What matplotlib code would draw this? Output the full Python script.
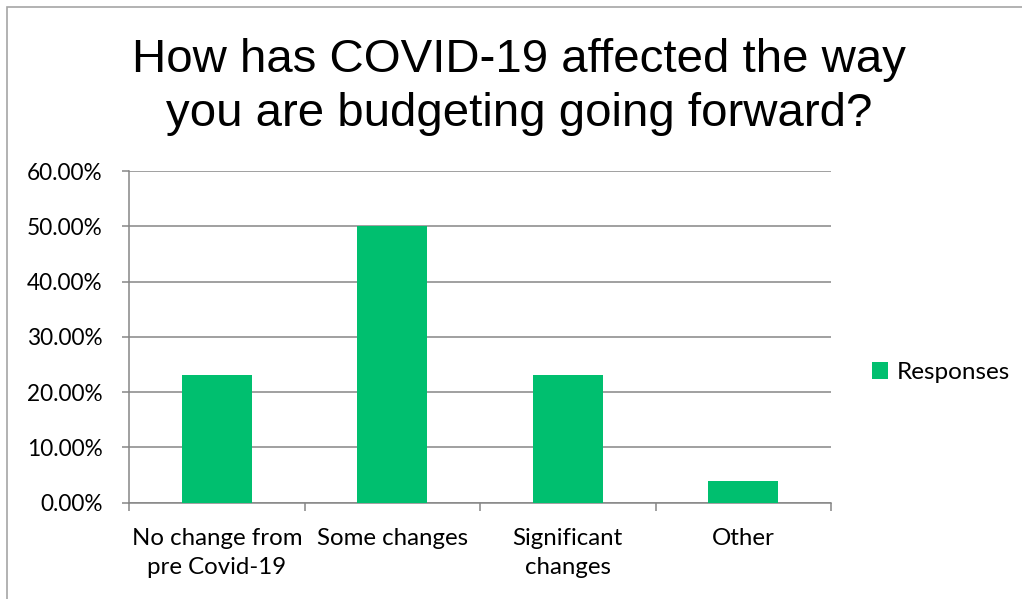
import matplotlib
matplotlib.use("Agg")
import matplotlib.pyplot as plt
from matplotlib.patches import Rectangle
from matplotlib.ticker import FuncFormatter, FixedLocator

categories = ["No change from\npre Covid-19", "Some changes", "Significant\nchanges", "Other"]
responses = [0.2308, 0.50, 0.2308, 0.0385]
series_name = "Responses"
y_ticks = [0.0, 0.1, 0.2, 0.3, 0.4, 0.5, 0.6]
title_lines = ["How has COVID-19 affected the way", "you are budgeting going forward?"]

BAR = "#00BF6F"
GRID = "#868686"
LABEL_FONT = ["Lato", "DejaVu Sans"]
TITLE_FONT = ["Liberation Sans", "DejaVu Sans"]

W, H = 1022, 599
fig = plt.figure(figsize=(W / 100, H / 100), dpi=100)
fig.patch.set_facecolor("white")

# chart frame (runs off the right and bottom edges)
fig.patches.append(Rectangle((7 / W, -0.1), 1.2, 1 - 7 / H + 0.1,
                             transform=fig.transFigure, fill=False,
                             edgecolor="#A6A6A6", linewidth=1.2))

ax = fig.add_axes([129 / W, 1 - 502.7 / H, (831 - 129) / W, (502.7 - 171) / H])
x = list(range(len(categories)))
ax.bar(x, responses, width=0.4, color=BAR, label=series_name, zorder=3)

ax.set_xlim(-0.5, len(categories) - 0.5)
ax.set_ylim(y_ticks[0], y_ticks[-1])
ax.set_yticks(y_ticks)
ax.yaxis.set_major_formatter(FuncFormatter(lambda v, _: f"{v * 100:.2f}%"))
ax.yaxis.grid(True, color=GRID, linewidth=1.1, zorder=0)

ax.set_xticks(x)
ax.set_xticklabels(categories, fontfamily=LABEL_FONT, fontsize=17.3, linespacing=1.42)
ax.xaxis.set_minor_locator(FixedLocator([i - 0.5 for i in range(len(categories) + 1)]))
ax.tick_params(axis="x", which="major", length=0, pad=18.5)
ax.tick_params(axis="x", which="minor", length=6, color=GRID, width=1.1, direction="out")
ax.tick_params(axis="y", length=5, color=GRID, width=1.1, direction="out", pad=14)
for lab in ax.get_yticklabels():
    lab.set_fontfamily(LABEL_FONT)
    lab.set_fontsize(16.3)

for side in ("top", "right"):
    ax.spines[side].set_visible(False)
for side in ("left", "bottom"):
    ax.spines[side].set_color(GRID)
    ax.spines[side].set_linewidth(1.1)
ax.set_axisbelow(True)

for line, base in zip(title_lines, (72.0, 126.5)):
    fig.text(519 / W, 1 - base / H, line, ha="center", va="baseline",
             fontfamily=TITLE_FONT, fontsize=34.1)

ax.legend(loc="center left", bbox_to_anchor=(872 / W, 1 - 372.5 / H),
          bbox_transform=fig.transFigure, frameon=False,
          prop={"family": LABEL_FONT, "size": 17.5},
          handlelength=0.65, handleheight=0.65, handletextpad=0.35,
          borderaxespad=0, borderpad=0)

fig.savefig("out.png", dpi=100, facecolor="white")
